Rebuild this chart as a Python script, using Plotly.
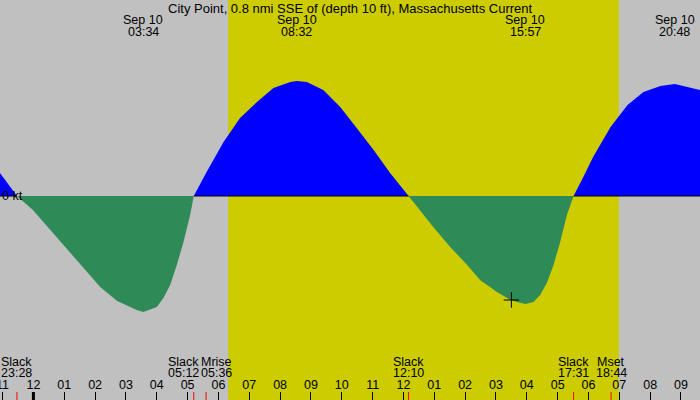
import pandas as pd
import plotly.graph_objects as go

# ---- data (knots, local time) ----
curve_time = [
    "2024-09-09 22:55", "2024-09-09 23:28", "2024-09-09 23:59", "2024-09-10 00:33",
    "2024-09-10 01:06", "2024-09-10 01:37", "2024-09-10 02:10", "2024-09-10 02:43",
    "2024-09-10 03:21", "2024-09-10 03:34", "2024-09-10 04:00", "2024-09-10 04:13",
    "2024-09-10 04:26", "2024-09-10 04:39", "2024-09-10 04:52", "2024-09-10 05:05",
    "2024-09-10 05:12",
    "2024-09-10 05:37", "2024-09-10 06:10", "2024-09-10 06:42", "2024-09-10 07:15",
    "2024-09-10 07:47", "2024-09-10 08:20", "2024-09-10 08:32", "2024-09-10 08:52",
    "2024-09-10 09:24", "2024-09-10 09:57", "2024-09-10 10:29", "2024-09-10 11:02",
    "2024-09-10 11:34", "2024-09-10 12:10",
    "2024-09-10 12:58", "2024-09-10 13:31", "2024-09-10 14:04", "2024-09-10 14:29",
    "2024-09-10 15:02", "2024-09-10 15:28", "2024-09-10 15:41", "2024-09-10 15:57",
    "2024-09-10 16:13", "2024-09-10 16:26", "2024-09-10 16:39", "2024-09-10 16:52",
    "2024-09-10 17:05", "2024-09-10 17:18", "2024-09-10 17:31",
    "2024-09-10 17:50", "2024-09-10 18:09", "2024-09-10 18:43", "2024-09-10 19:16",
    "2024-09-10 19:47", "2024-09-10 20:20", "2024-09-10 20:48", "2024-09-10 21:12",
    "2024-09-10 21:37",
]
curve_kt = [
    0.23, 0.0, -0.14, -0.34,
    -0.54, -0.72, -0.91, -1.05,
    -1.14, -1.16, -1.11, -1.02,
    -0.89, -0.69, -0.46, -0.19,
    0.0,
    0.24, 0.54, 0.78, 0.94,
    1.08, 1.14, 1.15, 1.14,
    1.06, 0.89, 0.68, 0.46,
    0.23, 0.0,
    -0.31, -0.51, -0.69, -0.84,
    -0.96, -1.04, -1.06, -1.08,
    -1.06, -0.99, -0.87, -0.69,
    -0.46, -0.19, 0.0,
    0.19, 0.39, 0.69, 0.91,
    1.04, 1.10, 1.12, 1.09,
    1.06,
]

peak_times = ["2024-09-10 03:34", "2024-09-10 08:32", "2024-09-10 15:57", "2024-09-10 20:48"]

event_times = ["2024-09-09 23:28", "2024-09-10 05:12", "2024-09-10 05:36",
               "2024-09-10 12:10", "2024-09-10 17:31", "2024-09-10 18:44"]
event_names = ["Slack", "Slack", "Mrise", "Slack", "Slack", "Mset"]
event_shift = [0, -10, 10, 0, 0, 0]

sunrise = "2024-09-10 06:19"
sunset = "2024-09-10 18:59"
day_start = "2024-09-10 00:00"
now_time, now_kt = "2024-09-10 15:30", -1.04

x_range = ["2024-09-09 22:55", "2024-09-10 21:37"]
title = "City Point, 0.8 nmi SSE of (depth 10 ft), Massachusetts Current"

GRAY = "#c0c0c0"
YELLOW = "#cccc00"
FONT = dict(family="Liberation Sans", size=12.5, color="black")
TITLE_FONT = dict(family="Liberation Sans", size=13, color="black")

flood = [max(v, 0) for v in curve_kt]
ebb = [min(v, 0) for v in curve_kt]
zero_line = [0 if v >= 0 else None for v in curve_kt]

fig = go.Figure()
fig.add_trace(go.Scatter(x=curve_time, y=flood, fill="tozeroy", mode="lines",
                         line=dict(width=0, color="blue"), fillcolor="#0000ff"))
fig.add_trace(go.Scatter(x=curve_time, y=ebb, fill="tozeroy", mode="lines",
                         line=dict(width=0, color="#2e8b57"), fillcolor="#2e8b57"))
fig.add_trace(go.Scatter(x=curve_time, y=zero_line, mode="lines",
                         line=dict(width=1, color="black")))
fig.add_trace(go.Scatter(x=[now_time], y=[now_kt], mode="markers",
                         marker=dict(symbol="cross-thin", size=11,
                                     line=dict(width=1, color="black"))))

# daylight band
fig.add_shape(type="rect", xref="x", yref="paper", x0=sunrise, x1=sunset, y0=0, y1=1,
              fillcolor=YELLOW, line_width=0, layer="below")

# midnight tick
fig.add_shape(type="line", xref="x", yref="paper", x0=day_start, x1=day_start,
              ysizemode="pixel", yanchor=0, y0=0, y1=8, line=dict(color="black", width=3))

ann = [dict(text=title, xref="paper", yref="paper", x=0.5, y=1, yanchor="middle",
            yshift=-8, showarrow=False, font=TITLE_FONT)]
for t in peak_times:
    ts = pd.Timestamp(t)
    ann.append(dict(text=ts.strftime("%b %d"), x=t, xref="x", yref="paper", y=1,
                    yanchor="middle", yshift=-20, showarrow=False, font=FONT))
    ann.append(dict(text=ts.strftime("%H:%M"), x=t, xref="x", yref="paper", y=1,
                    yanchor="middle", yshift=-32, showarrow=False, font=FONT))
for t, name, dx in zip(event_times, event_names, event_shift):
    ts = pd.Timestamp(t)
    fig.add_shape(type="line", xref="x", yref="paper", x0=t, x1=t, ysizemode="pixel",
                  yanchor=0, y0=0, y1=8, line=dict(color="red", width=1))
    ann.append(dict(text=name, x=t, xref="x", yref="paper", y=0, yanchor="middle",
                    yshift=38, xshift=dx, showarrow=False, font=FONT))
    ann.append(dict(text=ts.strftime("%H:%M"), x=t, xref="x", yref="paper", y=0,
                    yanchor="middle", yshift=27, xshift=dx, showarrow=False, font=FONT))
ann.append(dict(text="0 kt", xref="paper", x=0, xanchor="left", y=0, yref="y",
                yanchor="middle", showarrow=False, font=FONT))

fig.update_layout(
    width=700, height=400,
    margin=dict(l=0, r=0, t=0, b=0, autoexpand=False),
    paper_bgcolor=GRAY, plot_bgcolor=GRAY,
    showlegend=False, hovermode=False,
    annotations=ann,
    xaxis=dict(type="date", range=x_range, tick0="2024-09-09 23:00", dtick=3600000,
               tickformat="%I", ticks="inside", ticklen=8, tickcolor="black", tickwidth=1,
               ticklabelposition="inside", ticklabeloverflow="allow", tickfont=FONT,
               showgrid=False, zeroline=False, showline=False, automargin=False),
    yaxis=dict(range=[-2.04, 1.96], visible=False, fixedrange=True, automargin=False),
)

# page body has a default 8px margin; drop it so the 700x400 figure fills the window
fig.write_html("out.html", config={"displayModeBar": False},
               post_script="document.body.style.margin='0';")
